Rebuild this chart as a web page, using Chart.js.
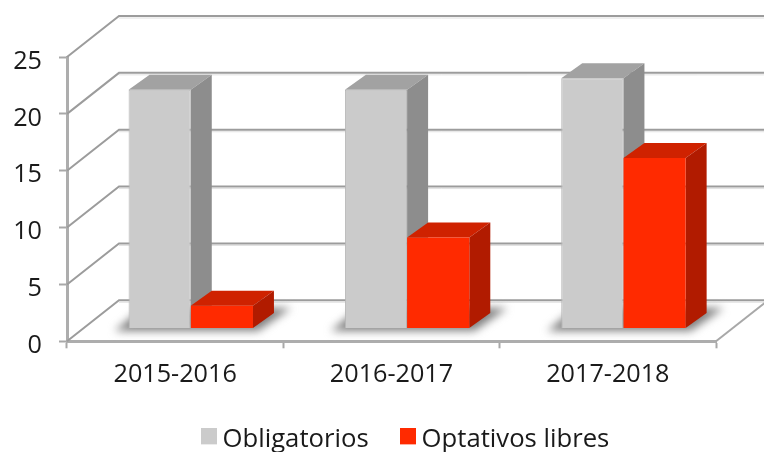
<!DOCTYPE html>
<html>
<head>
<meta charset="utf-8">
<style>html,body{margin:0;padding:0;background:#fff}#w{width:764px;height:452px}</style>
<script src="https://cdn.jsdelivr.net/npm/chart.js@4"></script>
</head>
<body>
<div id="w"><canvas id="c" width="764" height="452"></canvas></div>
<script>
const categories = ['2015-2016', '2016-2017', '2017-2018'];
const obligatorios = [21, 21, 22];
const optativos = [2, 8, 15];
const yTicks = [0, 5, 10, 15, 20, 25];

const FONT = '"Open Sans"';
const WALL = {dx: 52, dy: -41};       // depth of the plotted box
const BAR_DEPTH = {dx: 21, dy: -15};  // depth of each column
const BAR_SHIFT = {dx: 15.6, dy: -12.8};// columns stand inside the floor
const FACES = [
  {top: '#a2a2a2', side: '#8d8d8d'},
  {top: '#cf2200', side: '#b11b00'}
];

function swatch(color) {
  const s = document.createElement('canvas');
  s.width = 16; s.height = 22;
  const g = s.getContext('2d');
  g.fillStyle = color; g.fillRect(0, 0, 16, 16);
  return s;
}
function poly(ctx, pts, fill) {
  ctx.beginPath();
  pts.forEach((p, i) => i ? ctx.lineTo(p[0], p[1]) : ctx.moveTo(p[0], p[1]));
  ctx.closePath();
  ctx.fillStyle = fill;
  ctx.fill();
}

const box3d = {
  id: 'box3d',
  afterLayout(chart) {
    const l = chart.legend;
    l.left += 51;
    l.right += 51;
    l.top = 387.5;
    l.bottom = 492.5;
  },
  beforeDatasetsDraw(chart) {
    const ctx = chart.ctx, a = chart.chartArea, y = chart.scales.y;
    ctx.save();
    // walls: back gridlines plus the diagonals on the left wall
    ctx.lineCap = 'butt';
    yTicks.forEach(v => {
      const py = y.getPixelForValue(v);
      const by = py + WALL.dy, lx = a.left + WALL.dx;
      ctx.strokeStyle = 'rgba(205,205,205,0.6)';
      ctx.lineWidth = 1;
      ctx.beginPath(); ctx.moveTo(lx, by + 2); ctx.lineTo(764, by + 2); ctx.stroke();
      ctx.strokeStyle = '#9c9c9c';
      ctx.lineWidth = 2;
      ctx.beginPath();
      ctx.moveTo(a.left, py); ctx.lineTo(lx, by); ctx.lineTo(764, by);
      ctx.stroke();
    });
    // right edge of the floor
    const fy = y.getPixelForValue(0);
    ctx.strokeStyle = '#a8a8a8';
    ctx.lineWidth = 2;
    ctx.beginPath();
    ctx.moveTo(a.right, fy);
    ctx.lineTo(a.right + WALL.dx, fy + WALL.dy);
    ctx.stroke();

    const m0 = chart.getDatasetMeta(0).data, m1 = chart.getDatasetMeta(1).data;
    // soft shadows on the floor
    m0.forEach((b0, i) => {
      const b1 = m1[i];
      const l = b0.x - b0.width / 2 + BAR_SHIFT.dx;
      const r = b1.x + b1.width / 2 + BAR_SHIFT.dx;
      const b = b0.base + BAR_SHIFT.dy;
      ctx.save();
      ctx.filter = 'blur(4px)';
      poly(ctx, [[l - 14, b + 3], [r + 5, b + 3], [r + 38, b - 20], [l + 14, b - 20]], '#808080');
      ctx.restore();
    });
    // top and side faces of the columns
    ctx.translate(BAR_SHIFT.dx, BAR_SHIFT.dy);
    m0.forEach((_, i) => {
      [m0[i], m1[i]].forEach((e, d) => {
        const l = e.x - e.width / 2, r = e.x + e.width / 2, t = e.y, b = e.base;
        const X = BAR_DEPTH.dx, Y = BAR_DEPTH.dy;
        poly(ctx, [[l, t], [r, t], [r + X, t + Y], [l + X, t + Y]], FACES[d].top);
        poly(ctx, [[r, t], [r + X, t + Y], [r + X, b + Y], [r, b]], FACES[d].side);
      });
    });
    ctx.restore();
    // the fronts are drawn by Chart.js, moved into the box
    ctx.save();
    ctx.translate(BAR_SHIFT.dx, BAR_SHIFT.dy);
  },
  afterDatasetsDraw(chart) {
    chart.ctx.restore();
  }
};

new Chart(document.getElementById('c'), {
  type: 'bar',
  plugins: [box3d],
  data: {
    labels: categories,
    datasets: [
      {label: 'Obligatorios', data: obligatorios, backgroundColor: '#cbcbcb',
       borderColor: '#b6b6b6', borderWidth: 1,
       categoryPercentage: 0.575, barPercentage: 1, clip: false},
      {label: 'Optativos libres', data: optativos, backgroundColor: '#ff2a00',
       categoryPercentage: 0.575, barPercentage: 1, clip: false}
    ]
  },
  options: {
    responsive: false,
    animation: false,
    layout: {padding: {left: 0, right: 48, top: 57, bottom: -11}},
    plugins: {
      tooltip: {enabled: false},
      legend: {
        position: 'bottom',
        labels: {
          color: '#1a1a1a',
          font: {family: FONT, size: 25.7},
          padding: 39,
          usePointStyle: true,
          pointStyleWidth: 1,
          boxHeight: 16,
          generateLabels(chart) {
            return chart.data.datasets.map((d, i) => ({
              text: d.label,
              pointStyle: swatch(d.backgroundColor),
              fontColor: '#1a1a1a',
              datasetIndex: i,
              hidden: false,
              lineWidth: 0
            }));
          }
        }
      }
    },
    scales: {
      x: {
        grid: {drawOnChartArea: false, drawTicks: true, tickLength: 7, tickColor: '#a8a8a8', tickWidth: 2},
        border: {display: true, color: '#adadad', width: 3},
        ticks: {color: '#1a1a1a', font: {family: FONT, size: 25.2}, padding: 11, maxRotation: 0},
        afterFit(s) { s.height = 47; }
      },
      y: {
        min: 0, max: 25,
        afterBuildTicks(s) { s.ticks = yTicks.map(v => ({value: v})); },
        grid: {drawOnChartArea: false, drawTicks: true, tickLength: 8, tickColor: '#a8a8a8', tickWidth: 2},
        border: {display: true, color: '#adadad', width: 3},
        ticks: {color: '#1a1a1a', font: {family: FONT, size: 25.2}, padding: 17, labelOffset: 4.5},
        afterFit(s) { s.width = 67; }
      }
    }
  }
});
</script>
</body>
</html>
